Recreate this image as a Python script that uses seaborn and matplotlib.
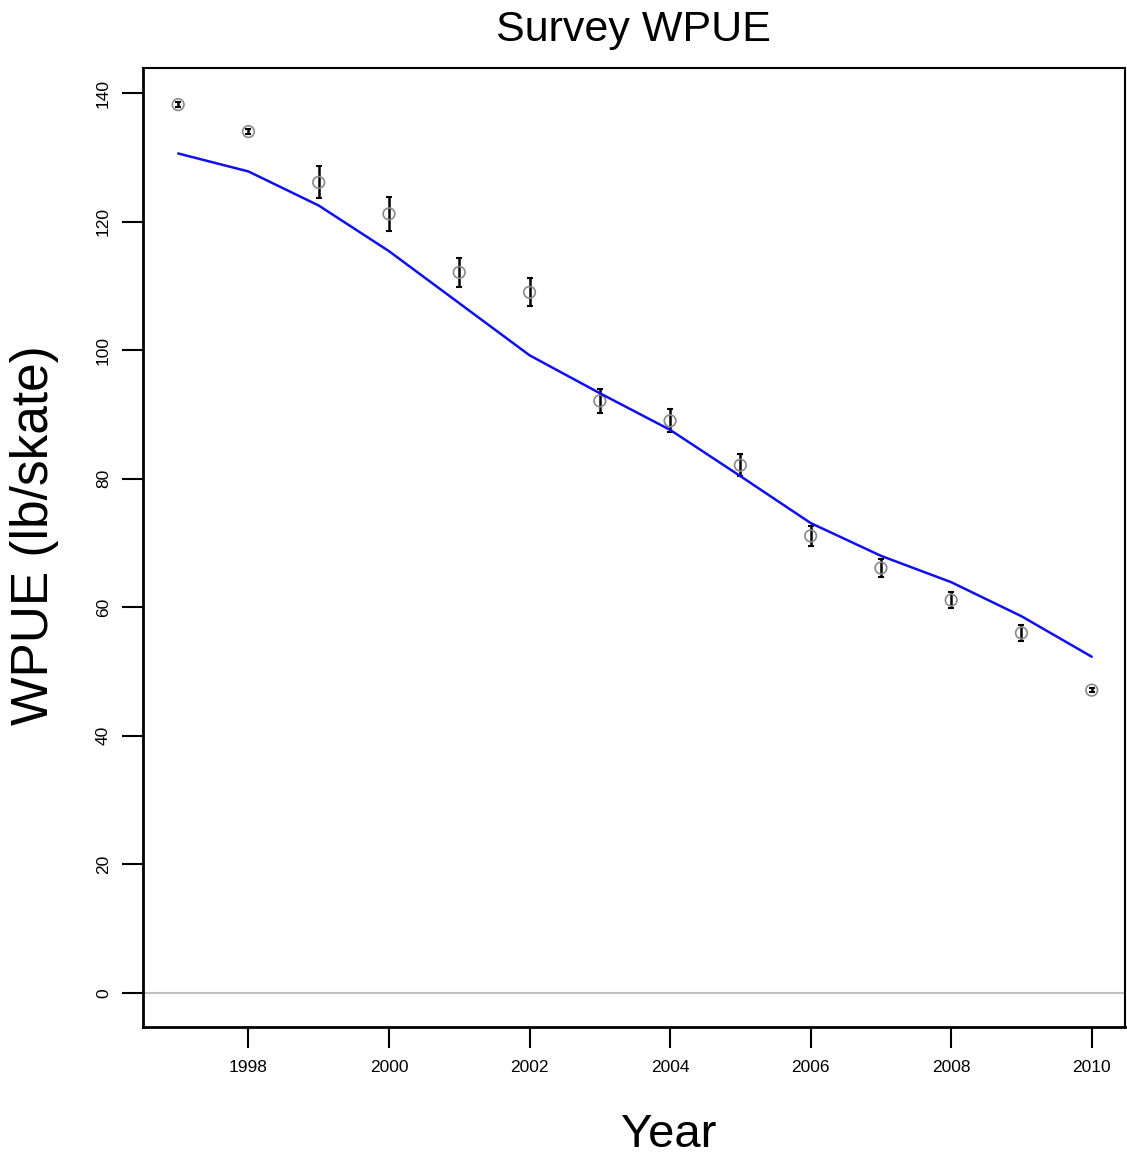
import matplotlib
matplotlib.use("Agg")
import matplotlib.pyplot as plt
import seaborn as sns
import pandas as pd

years = [1997, 1998, 1999, 2000, 2001, 2002, 2003, 2004, 2005, 2006, 2007, 2008, 2009, 2010]
observed = [138.2, 134.0, 126.1, 121.2, 112.1, 109.0, 92.1, 89.0, 82.1, 71.1, 66.1, 61.1, 56.0, 47.1]
err = [0.4, 0.4, 2.5, 2.6, 2.2, 2.2, 1.9, 1.8, 1.7, 1.55, 1.4, 1.2, 1.2, 0.3]
fitted = [130.6, 127.8, 122.5, 115.4, 107.3, 99.2, 93.3, 87.6, 80.4, 73.1, 68.0, 63.9, 58.6, 52.3]
xticks = [1998, 2000, 2002, 2004, 2006, 2008, 2010]
yticks = [0, 20, 40, 60, 80, 100, 120, 140]

df = pd.DataFrame({"Year": years, "obs": observed, "err": err, "fit": fitted})

sns.set_style("white")
plt.rcParams['font.family'] = ['Liberation Sans', 'DejaVu Sans']
plt.rcParams['text.color'] = 'black'

fig = plt.figure(figsize=(11.27, 11.6), dpi=100)
ax = fig.add_axes([0.1269, 0.1147, 0.8711, 0.8267])

ax.axhline(0, color="#c0c0c0", lw=1.5, zorder=1)
ax.errorbar(df["Year"], df["obs"], yerr=df["err"], fmt="none", ecolor="black",
            elinewidth=1.8, capsize=2, capthick=1.5, zorder=3)
sns.scatterplot(data=df, x="Year", y="obs", ax=ax, marker="o", s=70,
                facecolor="none", edgecolor="#8a8a8a", linewidth=1.2, zorder=4)
sns.lineplot(data=df, x="Year", y="fit", ax=ax, color="#1010ee", lw=1.8, zorder=5)

ax.set_xlim(1996.5, 2010.47)
ax.set_ylim(-5.3, 143.9)
ax.set_xticks(xticks)
ax.set_xticklabels([str(t) for t in xticks], fontsize=12.5, color="black")
ax.set_yticks(yticks)
ax.set_yticklabels([str(t) for t in yticks], fontsize=12.5, rotation=90, va="center",
                   color="black")
ax.tick_params(axis="both", direction="out", length=15, width=1.5, color="black",
               bottom=True, left=True)
ax.tick_params(axis="x", pad=9)
ax.tick_params(axis="y", pad=8)
for s in ax.spines.values():
    s.set_color("black")
    s.set_linewidth(1.5)
ax.spines["left"].set_linewidth(2)
ax.spines["bottom"].set_linewidth(2)
ax.set_xlabel("")
ax.set_ylabel("")

fig.text(0.562, 0.974, "Survey WPUE", fontsize=31, ha="center", va="center", color="black")
fig.text(0.593, 0.0215, "Year", fontsize=34, ha="center", va="center", color="black")
fig.text(0.031, 0.539, "WPUE (lb/skate)", fontsize=37, ha="center", va="center",
         rotation=90, color="black")

fig.savefig("out.png", dpi=100)
